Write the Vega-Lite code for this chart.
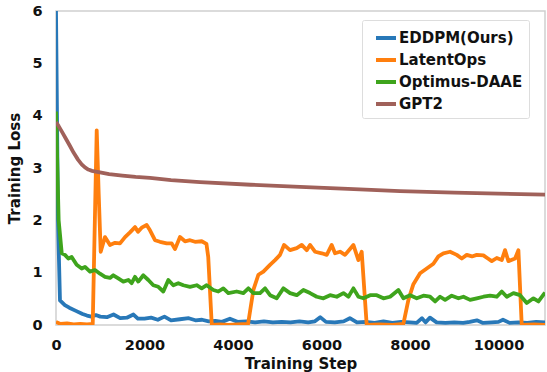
{
  "$schema": "https://vega.github.io/schema/vega-lite/v6.json",
  "width": 489,
  "height": 314,
  "autosize": {"type": "none"},
  "padding": {"left": 56, "top": 11, "right": 2, "bottom": 47},
  "background": "white",
  "config": {
    "view": {"stroke": "#cfcfcf", "strokeWidth": 1.5},
    "font": "DejaVu Sans"
  },
  "data": {"values": [
{"model":"EDDPM(Ours)","step":0,"loss":6.0},{"model":"EDDPM(Ours)","step":45,"loss":2.0},{"model":"EDDPM(Ours)","step":90,"loss":0.47},{"model":"EDDPM(Ours)","step":200,"loss":0.38},{"model":"EDDPM(Ours)","step":300,"loss":0.33},{"model":"EDDPM(Ours)","step":450,"loss":0.27},{"model":"EDDPM(Ours)","step":600,"loss":0.21},{"model":"EDDPM(Ours)","step":700,"loss":0.18},{"model":"EDDPM(Ours)","step":800,"loss":0.16},{"model":"EDDPM(Ours)","step":900,"loss":0.19},{"model":"EDDPM(Ours)","step":1000,"loss":0.16},{"model":"EDDPM(Ours)","step":1150,"loss":0.15},{"model":"EDDPM(Ours)","step":1300,"loss":0.2},{"model":"EDDPM(Ours)","step":1450,"loss":0.13},{"model":"EDDPM(Ours)","step":1600,"loss":0.14},{"model":"EDDPM(Ours)","step":1750,"loss":0.2},{"model":"EDDPM(Ours)","step":1850,"loss":0.12},{"model":"EDDPM(Ours)","step":2000,"loss":0.12},{"model":"EDDPM(Ours)","step":2150,"loss":0.14},{"model":"EDDPM(Ours)","step":2300,"loss":0.1},{"model":"EDDPM(Ours)","step":2450,"loss":0.16},{"model":"EDDPM(Ours)","step":2600,"loss":0.09},{"model":"EDDPM(Ours)","step":2800,"loss":0.11},{"model":"EDDPM(Ours)","step":3000,"loss":0.13},{"model":"EDDPM(Ours)","step":3150,"loss":0.09},{"model":"EDDPM(Ours)","step":3300,"loss":0.1},{"model":"EDDPM(Ours)","step":3450,"loss":0.07},{"model":"EDDPM(Ours)","step":3600,"loss":0.08},{"model":"EDDPM(Ours)","step":3750,"loss":0.06},{"model":"EDDPM(Ours)","step":3930,"loss":0.12},{"model":"EDDPM(Ours)","step":4100,"loss":0.06},{"model":"EDDPM(Ours)","step":4300,"loss":0.07},{"model":"EDDPM(Ours)","step":4500,"loss":0.05},{"model":"EDDPM(Ours)","step":4700,"loss":0.07},{"model":"EDDPM(Ours)","step":4900,"loss":0.05},{"model":"EDDPM(Ours)","step":5100,"loss":0.06},{"model":"EDDPM(Ours)","step":5300,"loss":0.05},{"model":"EDDPM(Ours)","step":5500,"loss":0.07},{"model":"EDDPM(Ours)","step":5700,"loss":0.05},{"model":"EDDPM(Ours)","step":5850,"loss":0.07},{"model":"EDDPM(Ours)","step":5970,"loss":0.15},{"model":"EDDPM(Ours)","step":6100,"loss":0.06},{"model":"EDDPM(Ours)","step":6300,"loss":0.05},{"model":"EDDPM(Ours)","step":6500,"loss":0.07},{"model":"EDDPM(Ours)","step":6640,"loss":0.13},{"model":"EDDPM(Ours)","step":6800,"loss":0.05},{"model":"EDDPM(Ours)","step":7000,"loss":0.06},{"model":"EDDPM(Ours)","step":7200,"loss":0.04},{"model":"EDDPM(Ours)","step":7400,"loss":0.07},{"model":"EDDPM(Ours)","step":7600,"loss":0.04},{"model":"EDDPM(Ours)","step":7800,"loss":0.06},{"model":"EDDPM(Ours)","step":8000,"loss":0.05},{"model":"EDDPM(Ours)","step":8150,"loss":0.04},{"model":"EDDPM(Ours)","step":8270,"loss":0.13},{"model":"EDDPM(Ours)","step":8350,"loss":0.05},{"model":"EDDPM(Ours)","step":8450,"loss":0.14},{"model":"EDDPM(Ours)","step":8600,"loss":0.05},{"model":"EDDPM(Ours)","step":8800,"loss":0.04},{"model":"EDDPM(Ours)","step":9000,"loss":0.05},{"model":"EDDPM(Ours)","step":9200,"loss":0.04},{"model":"EDDPM(Ours)","step":9350,"loss":0.06},{"model":"EDDPM(Ours)","step":9510,"loss":0.09},{"model":"EDDPM(Ours)","step":9650,"loss":0.04},{"model":"EDDPM(Ours)","step":9850,"loss":0.05},{"model":"EDDPM(Ours)","step":10000,"loss":0.06},{"model":"EDDPM(Ours)","step":10100,"loss":0.1},{"model":"EDDPM(Ours)","step":10250,"loss":0.04},{"model":"EDDPM(Ours)","step":10450,"loss":0.05},{"model":"EDDPM(Ours)","step":10650,"loss":0.04},{"model":"EDDPM(Ours)","step":10850,"loss":0.06},{"model":"EDDPM(Ours)","step":11050,"loss":0.05},
{"model":"LatentOps","step":0,"loss":0.06},{"model":"LatentOps","step":100,"loss":0.02},{"model":"LatentOps","step":250,"loss":0.03},{"model":"LatentOps","step":400,"loss":0.01},{"model":"LatentOps","step":550,"loss":0.02},{"model":"LatentOps","step":700,"loss":0.01},{"model":"LatentOps","step":830,"loss":0.02},{"model":"LatentOps","step":920,"loss":3.72},{"model":"LatentOps","step":965,"loss":2.5},{"model":"LatentOps","step":1010,"loss":1.40},{"model":"LatentOps","step":1107,"loss":1.68},{"model":"LatentOps","step":1220,"loss":1.53},{"model":"LatentOps","step":1333,"loss":1.57},{"model":"LatentOps","step":1446,"loss":1.56},{"model":"LatentOps","step":1560,"loss":1.68},{"model":"LatentOps","step":1672,"loss":1.77},{"model":"LatentOps","step":1786,"loss":1.87},{"model":"LatentOps","step":1853,"loss":1.78},{"model":"LatentOps","step":1936,"loss":1.86},{"model":"LatentOps","step":2049,"loss":1.91},{"model":"LatentOps","step":2124,"loss":1.81},{"model":"LatentOps","step":2237,"loss":1.62},{"model":"LatentOps","step":2350,"loss":1.59},{"model":"LatentOps","step":2501,"loss":1.56},{"model":"LatentOps","step":2614,"loss":1.56},{"model":"LatentOps","step":2689,"loss":1.45},{"model":"LatentOps","step":2802,"loss":1.68},{"model":"LatentOps","step":2915,"loss":1.60},{"model":"LatentOps","step":3028,"loss":1.62},{"model":"LatentOps","step":3141,"loss":1.59},{"model":"LatentOps","step":3292,"loss":1.60},{"model":"LatentOps","step":3400,"loss":1.55},{"model":"LatentOps","step":3440,"loss":1.3},{"model":"LatentOps","step":3520,"loss":0.0},{"model":"LatentOps","step":3700,"loss":0.01},{"model":"LatentOps","step":3900,"loss":0.0},{"model":"LatentOps","step":4100,"loss":0.01},{"model":"LatentOps","step":4340,"loss":0.02},{"model":"LatentOps","step":4460,"loss":0.67},{"model":"LatentOps","step":4573,"loss":0.96},{"model":"LatentOps","step":4686,"loss":1.02},{"model":"LatentOps","step":4836,"loss":1.15},{"model":"LatentOps","step":4950,"loss":1.24},{"model":"LatentOps","step":5062,"loss":1.34},{"model":"LatentOps","step":5153,"loss":1.53},{"model":"LatentOps","step":5288,"loss":1.43},{"model":"LatentOps","step":5440,"loss":1.47},{"model":"LatentOps","step":5553,"loss":1.53},{"model":"LatentOps","step":5666,"loss":1.43},{"model":"LatentOps","step":5740,"loss":1.53},{"model":"LatentOps","step":5853,"loss":1.40},{"model":"LatentOps","step":6005,"loss":1.37},{"model":"LatentOps","step":6118,"loss":1.34},{"model":"LatentOps","step":6230,"loss":1.53},{"model":"LatentOps","step":6305,"loss":1.37},{"model":"LatentOps","step":6418,"loss":1.40},{"model":"LatentOps","step":6531,"loss":1.34},{"model":"LatentOps","step":6720,"loss":1.53},{"model":"LatentOps","step":6833,"loss":1.24},{"model":"LatentOps","step":6908,"loss":1.40},{"model":"LatentOps","step":7021,"loss":0.0},{"model":"LatentOps","step":7300,"loss":0.01},{"model":"LatentOps","step":7600,"loss":0.0},{"model":"LatentOps","step":7850,"loss":0.02},{"model":"LatentOps","step":7963,"loss":0.48},{"model":"LatentOps","step":8076,"loss":0.78},{"model":"LatentOps","step":8227,"loss":0.99},{"model":"LatentOps","step":8378,"loss":1.08},{"model":"LatentOps","step":8528,"loss":1.17},{"model":"LatentOps","step":8641,"loss":1.31},{"model":"LatentOps","step":8754,"loss":1.37},{"model":"LatentOps","step":8905,"loss":1.40},{"model":"LatentOps","step":9056,"loss":1.34},{"model":"LatentOps","step":9169,"loss":1.27},{"model":"LatentOps","step":9282,"loss":1.34},{"model":"LatentOps","step":9400,"loss":1.31},{"model":"LatentOps","step":9508,"loss":1.34},{"model":"LatentOps","step":9658,"loss":1.33},{"model":"LatentOps","step":9760,"loss":1.27},{"model":"LatentOps","step":9847,"loss":1.22},{"model":"LatentOps","step":9960,"loss":1.28},{"model":"LatentOps","step":10073,"loss":1.24},{"model":"LatentOps","step":10147,"loss":1.43},{"model":"LatentOps","step":10223,"loss":1.22},{"model":"LatentOps","step":10374,"loss":1.27},{"model":"LatentOps","step":10449,"loss":1.43},{"model":"LatentOps","step":10524,"loss":0.0},{"model":"LatentOps","step":10800,"loss":0.01},{"model":"LatentOps","step":11050,"loss":0.0},
{"model":"Optimus-DAAE","step":0,"loss":4.08},{"model":"Optimus-DAAE","step":60,"loss":2.0},{"model":"Optimus-DAAE","step":130,"loss":1.37},{"model":"Optimus-DAAE","step":203,"loss":1.34},{"model":"Optimus-DAAE","step":279,"loss":1.27},{"model":"Optimus-DAAE","step":354,"loss":1.30},{"model":"Optimus-DAAE","step":467,"loss":1.15},{"model":"Optimus-DAAE","step":580,"loss":1.08},{"model":"Optimus-DAAE","step":655,"loss":1.11},{"model":"Optimus-DAAE","step":768,"loss":1.02},{"model":"Optimus-DAAE","step":881,"loss":1.05},{"model":"Optimus-DAAE","step":994,"loss":0.98},{"model":"Optimus-DAAE","step":1107,"loss":0.92},{"model":"Optimus-DAAE","step":1220,"loss":0.90},{"model":"Optimus-DAAE","step":1295,"loss":0.95},{"model":"Optimus-DAAE","step":1407,"loss":0.89},{"model":"Optimus-DAAE","step":1521,"loss":0.83},{"model":"Optimus-DAAE","step":1634,"loss":0.86},{"model":"Optimus-DAAE","step":1709,"loss":0.80},{"model":"Optimus-DAAE","step":1785,"loss":0.92},{"model":"Optimus-DAAE","step":1860,"loss":0.83},{"model":"Optimus-DAAE","step":1973,"loss":0.95},{"model":"Optimus-DAAE","step":2086,"loss":0.86},{"model":"Optimus-DAAE","step":2199,"loss":0.76},{"model":"Optimus-DAAE","step":2312,"loss":0.73},{"model":"Optimus-DAAE","step":2425,"loss":0.64},{"model":"Optimus-DAAE","step":2538,"loss":0.86},{"model":"Optimus-DAAE","step":2651,"loss":0.76},{"model":"Optimus-DAAE","step":2764,"loss":0.80},{"model":"Optimus-DAAE","step":2877,"loss":0.76},{"model":"Optimus-DAAE","step":3028,"loss":0.73},{"model":"Optimus-DAAE","step":3179,"loss":0.76},{"model":"Optimus-DAAE","step":3292,"loss":0.70},{"model":"Optimus-DAAE","step":3405,"loss":0.76},{"model":"Optimus-DAAE","step":3556,"loss":0.67},{"model":"Optimus-DAAE","step":3668,"loss":0.64},{"model":"Optimus-DAAE","step":3781,"loss":0.70},{"model":"Optimus-DAAE","step":3894,"loss":0.61},{"model":"Optimus-DAAE","step":4083,"loss":0.64},{"model":"Optimus-DAAE","step":4234,"loss":0.61},{"model":"Optimus-DAAE","step":4347,"loss":0.70},{"model":"Optimus-DAAE","step":4460,"loss":0.61},{"model":"Optimus-DAAE","step":4611,"loss":0.61},{"model":"Optimus-DAAE","step":4724,"loss":0.70},{"model":"Optimus-DAAE","step":4837,"loss":0.57},{"model":"Optimus-DAAE","step":4988,"loss":0.51},{"model":"Optimus-DAAE","step":5138,"loss":0.70},{"model":"Optimus-DAAE","step":5289,"loss":0.61},{"model":"Optimus-DAAE","step":5440,"loss":0.57},{"model":"Optimus-DAAE","step":5590,"loss":0.67},{"model":"Optimus-DAAE","step":5741,"loss":0.61},{"model":"Optimus-DAAE","step":5892,"loss":0.54},{"model":"Optimus-DAAE","step":6043,"loss":0.51},{"model":"Optimus-DAAE","step":6193,"loss":0.57},{"model":"Optimus-DAAE","step":6344,"loss":0.54},{"model":"Optimus-DAAE","step":6495,"loss":0.61},{"model":"Optimus-DAAE","step":6608,"loss":0.54},{"model":"Optimus-DAAE","step":6721,"loss":0.70},{"model":"Optimus-DAAE","step":6834,"loss":0.54},{"model":"Optimus-DAAE","step":6947,"loss":0.51},{"model":"Optimus-DAAE","step":7098,"loss":0.57},{"model":"Optimus-DAAE","step":7248,"loss":0.57},{"model":"Optimus-DAAE","step":7399,"loss":0.51},{"model":"Optimus-DAAE","step":7550,"loss":0.54},{"model":"Optimus-DAAE","step":7737,"loss":0.67},{"model":"Optimus-DAAE","step":7850,"loss":0.51},{"model":"Optimus-DAAE","step":8001,"loss":0.57},{"model":"Optimus-DAAE","step":8152,"loss":0.51},{"model":"Optimus-DAAE","step":8303,"loss":0.56},{"model":"Optimus-DAAE","step":8453,"loss":0.54},{"model":"Optimus-DAAE","step":8567,"loss":0.45},{"model":"Optimus-DAAE","step":8680,"loss":0.54},{"model":"Optimus-DAAE","step":8793,"loss":0.48},{"model":"Optimus-DAAE","step":8943,"loss":0.56},{"model":"Optimus-DAAE","step":9094,"loss":0.51},{"model":"Optimus-DAAE","step":9207,"loss":0.54},{"model":"Optimus-DAAE","step":9357,"loss":0.48},{"model":"Optimus-DAAE","step":9508,"loss":0.51},{"model":"Optimus-DAAE","step":9659,"loss":0.54},{"model":"Optimus-DAAE","step":9809,"loss":0.56},{"model":"Optimus-DAAE","step":9960,"loss":0.54},{"model":"Optimus-DAAE","step":10073,"loss":0.64},{"model":"Optimus-DAAE","step":10186,"loss":0.54},{"model":"Optimus-DAAE","step":10337,"loss":0.61},{"model":"Optimus-DAAE","step":10487,"loss":0.57},{"model":"Optimus-DAAE","step":10638,"loss":0.42},{"model":"Optimus-DAAE","step":10789,"loss":0.51},{"model":"Optimus-DAAE","step":10902,"loss":0.45},{"model":"Optimus-DAAE","step":11050,"loss":0.62},
{"model":"GPT2","step":0,"loss":3.88},{"model":"GPT2","step":60,"loss":3.8},{"model":"GPT2","step":136,"loss":3.69},{"model":"GPT2","step":230,"loss":3.55},{"model":"GPT2","step":316,"loss":3.42},{"model":"GPT2","step":400,"loss":3.29},{"model":"GPT2","step":497,"loss":3.16},{"model":"GPT2","step":580,"loss":3.07},{"model":"GPT2","step":655,"loss":3.01},{"model":"GPT2","step":730,"loss":2.97},{"model":"GPT2","step":814,"loss":2.945},{"model":"GPT2","step":900,"loss":2.93},{"model":"GPT2","step":994,"loss":2.915},{"model":"GPT2","step":1200,"loss":2.885},{"model":"GPT2","step":1500,"loss":2.855},{"model":"GPT2","step":1800,"loss":2.83},{"model":"GPT2","step":2124,"loss":2.81},{"model":"GPT2","step":2600,"loss":2.77},{"model":"GPT2","step":3254,"loss":2.73},{"model":"GPT2","step":4400,"loss":2.68},{"model":"GPT2","step":5514,"loss":2.64},{"model":"GPT2","step":6600,"loss":2.60},{"model":"GPT2","step":7774,"loss":2.56},{"model":"GPT2","step":9000,"loss":2.53},{"model":"GPT2","step":10000,"loss":2.51},{"model":"GPT2","step":11050,"loss":2.49}
  ]},
  "mark": {"type": "line", "strokeWidth": 3.8, "strokeJoin": "round", "strokeCap": "butt", "clip": true},
  "encoding": {
    "x": {
      "field": "step", "type": "quantitative",
      "scale": {"domain": [0, 11050], "nice": false, "zero": false},
      "axis": {
        "title": "Training Step", "values": [0, 2000, 4000, 6000, 8000, 10000],
        "format": "d", "grid": false, "domain": false, "ticks": false,
        "labelFont": "DejaVu Sans", "labelFontWeight": "bold", "labelFontSize": 14.5, "labelColor": "#111",
        "labelPadding": 13, "labelFlush": false,
        "titleFont": "DejaVu Sans", "titleFontWeight": "bold", "titleFontSize": 15, "titleColor": "#111", "titlePadding": 5
      }
    },
    "y": {
      "field": "loss", "type": "quantitative",
      "scale": {"domain": [0, 6], "nice": false},
      "axis": {
        "title": "Training Loss", "values": [0, 1, 2, 3, 4, 5, 6],
        "grid": false, "domain": false, "ticks": false,
        "labelFont": "DejaVu Sans", "labelFontWeight": "bold", "labelFontSize": 14.5, "labelColor": "#111",
        "labelPadding": 14, "labelFlush": false,
        "titleFont": "DejaVu Sans", "titleFontWeight": "bold", "titleFontSize": 15, "titleColor": "#111", "titlePadding": 9
      }
    },
    "color": {
      "field": "model", "type": "nominal",
      "scale": {
        "domain": ["EDDPM(Ours)", "LatentOps", "Optimus-DAAE", "GPT2"],
        "range": ["#2878b8", "#ff7f0e", "#3ea41c", "#a0615a"]
      },
      "legend": {
        "title": null, "orient": "none", "legendX": 306, "legendY": 9,
        "symbolType": "stroke", "symbolStrokeWidth": 4, "symbolSize": 400,
        "symbolOffset": 6, "labelOffset": 1, "rowPadding": 2, "padding": 6,
        "labelFont": "DejaVu Sans", "labelFontWeight": "bold", "labelFontSize": 15, "labelColor": "#111",
        "strokeColor": "#dddddd", "fillColor": "white", "cornerRadius": 2
      }
    }
  }
}
